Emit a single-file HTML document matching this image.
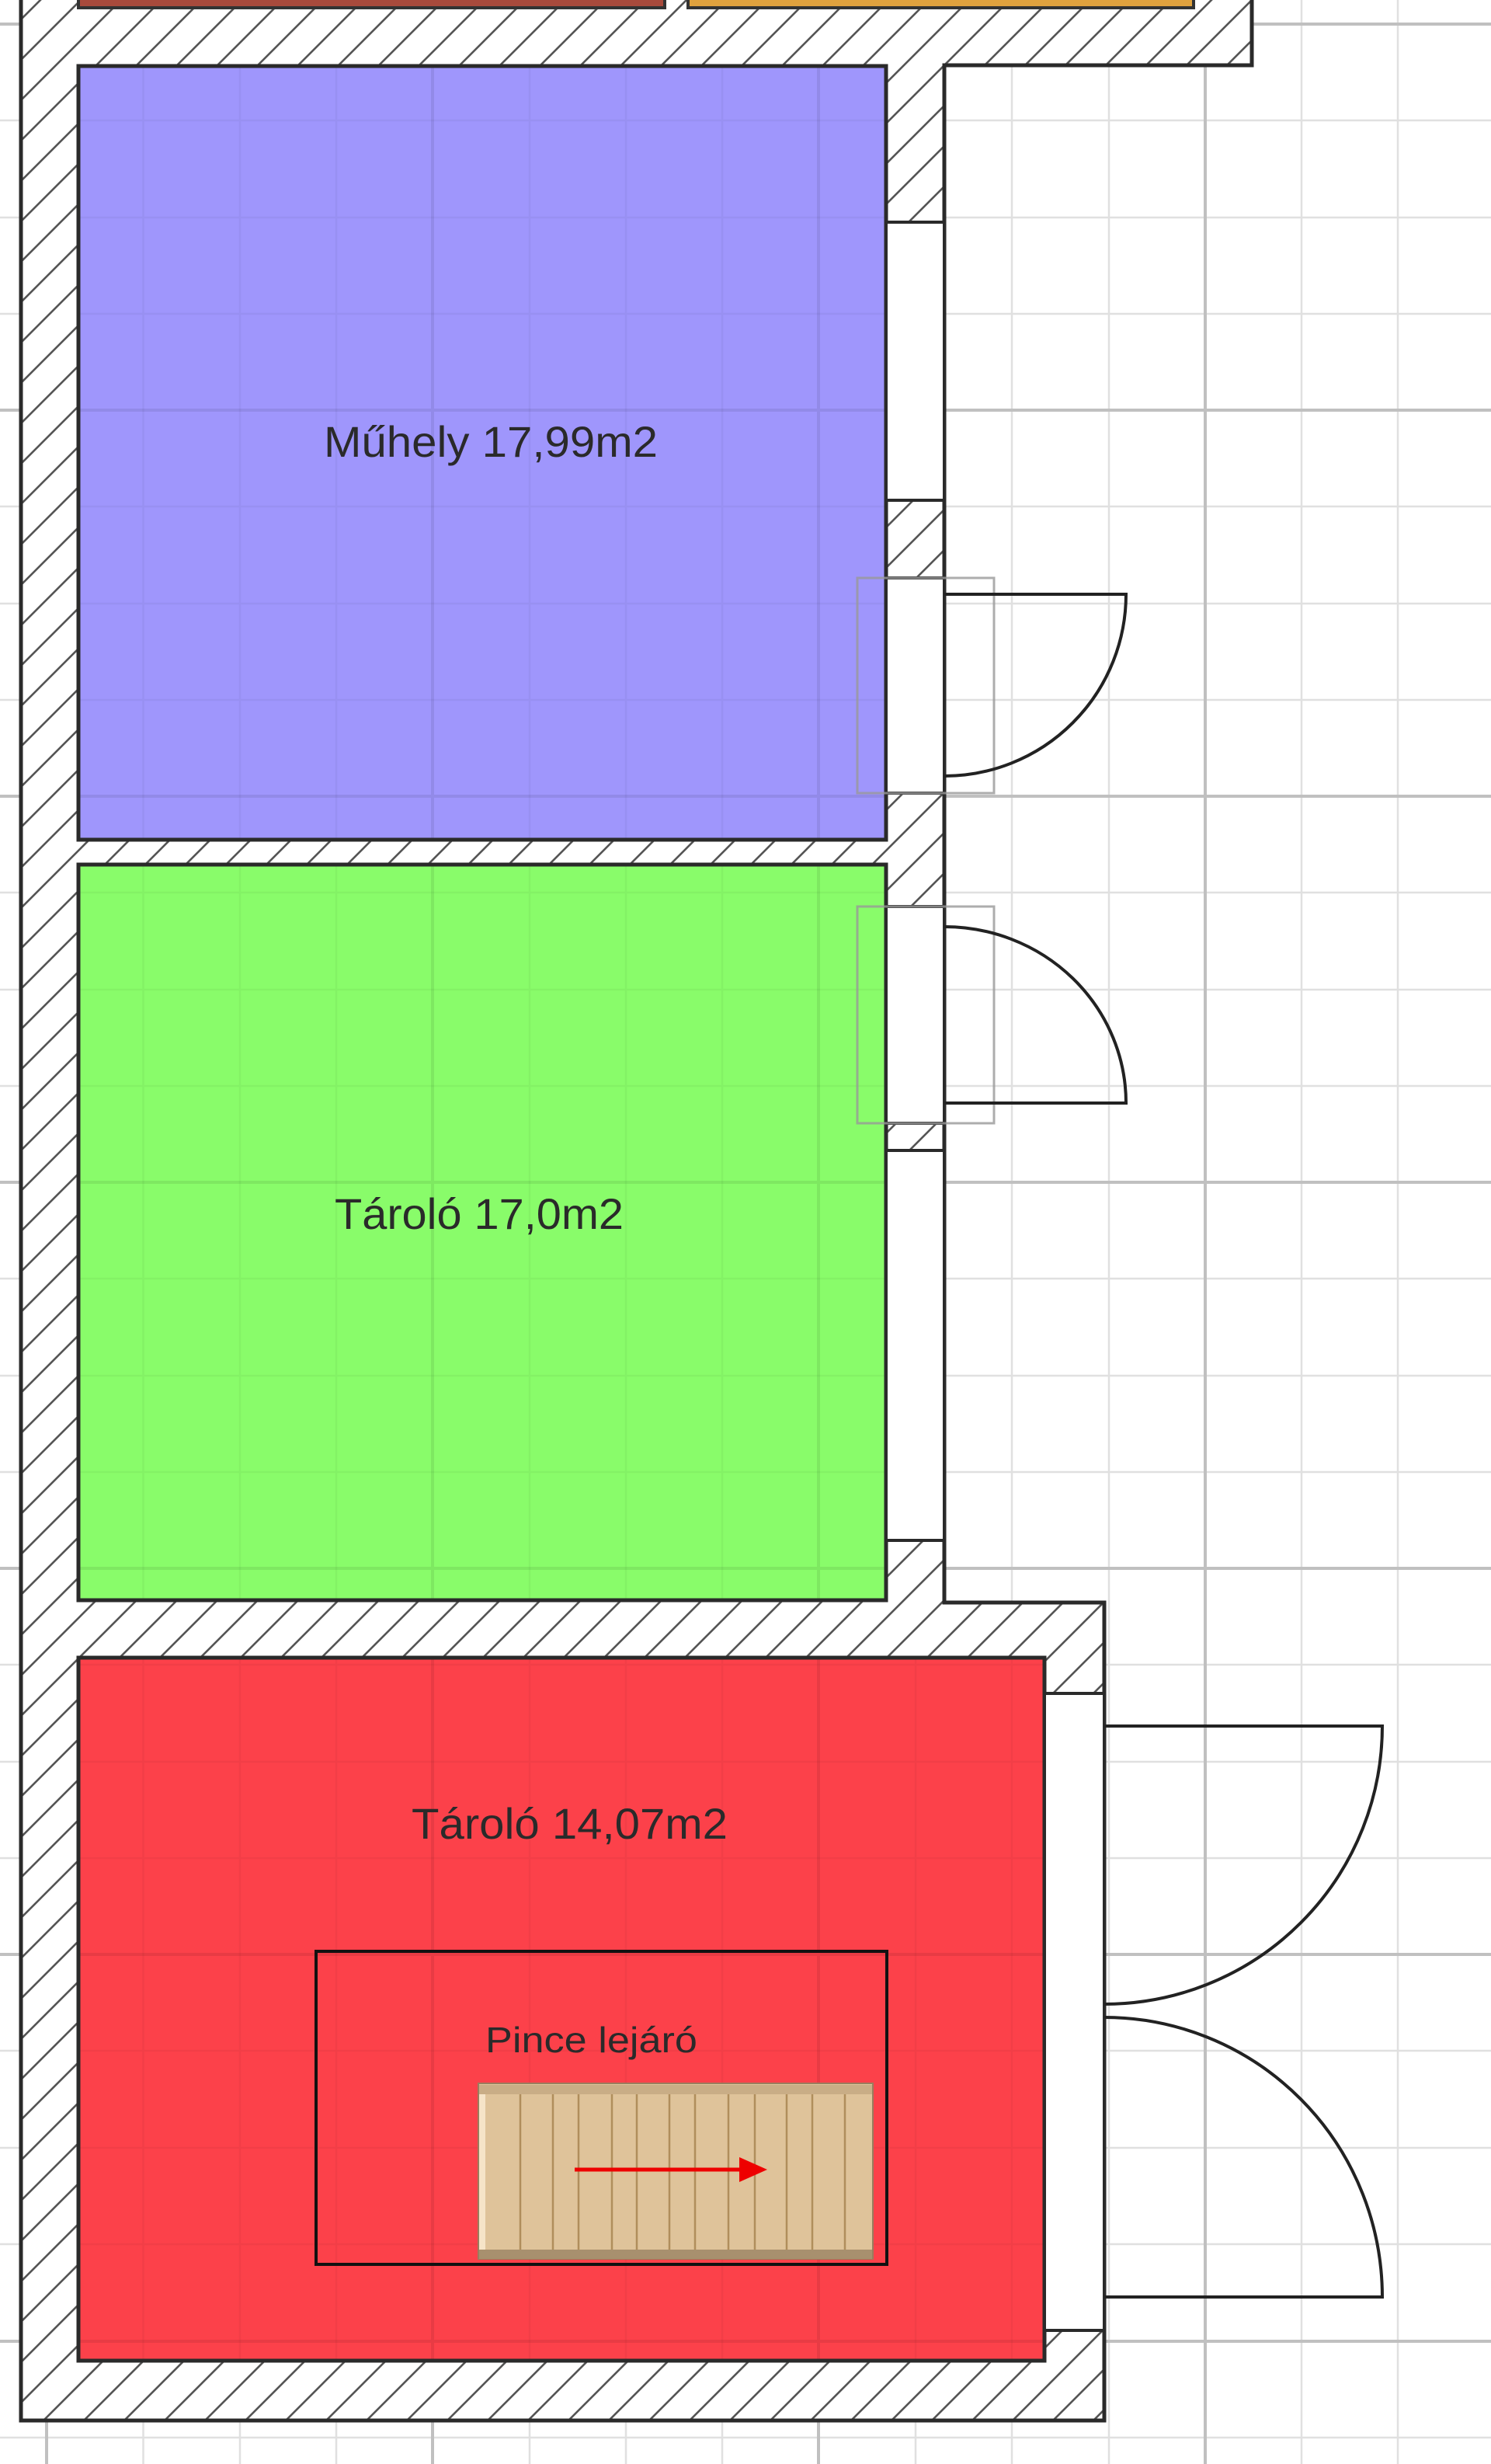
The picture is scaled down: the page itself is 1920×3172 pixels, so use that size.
<!DOCTYPE html>
<html><head><meta charset="utf-8"><style>
html,body{margin:0;padding:0;background:#fff;}
svg{display:block;}
text{font-family:"Liberation Sans",sans-serif;fill:#2a2a2a;}
</style></head><body>
<svg width="1920" height="3172" viewBox="0 0 1920 3172" xmlns="http://www.w3.org/2000/svg">
<defs>
<pattern id="h" patternUnits="userSpaceOnUse" width="52" height="52">
<rect width="52" height="52" fill="#fff"/>
<path d="M-13,13 L13,-13 M0,52 L52,0 M39,65 L65,39" stroke="#555" stroke-width="2.6"/>
</pattern>
<clipPath id="rc">
<rect x="101" y="85" width="1040" height="996"/>
<rect x="101" y="1113" width="1040" height="947"/>
<rect x="101" y="2134" width="1244" height="905"/>
</clipPath>
<path id="minor" d="M184.5,0V3172M309,0V3172M433,0V3172M682,0V3172M806,0V3172M930,0V3172M1179,0V3172M1303,0V3172M1428,0V3172M1676,0V3172M1800,0V3172M0,155H1920M0,280H1920M0,404H1920M0,652H1920M0,777H1920M0,901H1920M0,1149H1920M0,1274H1920M0,1398H1920M0,1646H1920M0,1771H1920M0,1895H1920M0,2143H1920M0,2268H1920M0,2392H1920M0,2640H1920M0,2765H1920M0,2889H1920M0,3138H1920" stroke-width="2.5"/>
<path id="major" d="M60,0V3172M557,0V3172M1054,0V3172M1552,0V3172M0,31H1920M0,528H1920M0,1025H1920M0,1522H1920M0,2019H1920M0,2516H1920M0,3014H1920" stroke-width="4"/>
</defs>
<rect width="1920" height="3172" fill="#fff"/>
<use href="#minor" stroke="#e0e0e0"/>
<use href="#major" stroke="#c0c0c0"/>
<path d="M27,-10 H1612 V84 H1216 V2063 H1422 V3116 H27 Z" fill="url(#h)" stroke="#2a2a2a" stroke-width="5"/>
<rect x="101" y="-10" width="755" height="20" fill="#a84a3c" stroke="#333" stroke-width="4"/>
<rect x="886" y="-10" width="651" height="20" fill="#e0a23e" stroke="#333" stroke-width="4"/>
<rect x="101" y="85" width="1040" height="996" fill="#9f96fc"/>
<rect x="101" y="1113" width="1040" height="947" fill="#89fc6a"/>
<rect x="101" y="2134" width="1244" height="905" fill="#fc414a"/>
<g clip-path="url(#rc)">
<use href="#minor" stroke="rgba(0,0,0,0.04)"/>
<use href="#major" stroke="rgba(0,0,0,0.08)"/>
</g>
<g fill="none" stroke="#2a2a2a" stroke-width="5">
<rect x="101" y="85" width="1040" height="996"/>
<rect x="101" y="1113" width="1040" height="947"/>
<rect x="101" y="2134" width="1244" height="905"/>
</g>
<g fill="#fff" stroke="#2a2a2a" stroke-width="4">
<rect x="1141" y="286" width="75" height="358"/>
<rect x="1141" y="744" width="75" height="277"/>
<rect x="1141" y="1167" width="75" height="279"/>
<rect x="1141" y="1481" width="75" height="502"/>
<rect x="1345" y="2180" width="77" height="820"/>
</g>
<g fill="none" stroke="#999" stroke-width="3" opacity="0.8">
<rect x="1104" y="744" width="176" height="277"/>
<rect x="1104" y="1167" width="176" height="279"/>
</g>
<g fill="none" stroke="#222" stroke-width="4">
<path d="M1216,765 H1450 A234,234 0 0 1 1216,999"/>
<path d="M1216,1420 H1450 A234,227 0 0 0 1216,1193"/>
<path d="M1422,2222 H1780 A358,358 0 0 1 1422,2580"/>
<path d="M1422,2957 H1780 A358,360 0 0 0 1422,2597"/>
</g>
<text x="417" y="588" font-size="56" textLength="430" lengthAdjust="spacingAndGlyphs">Műhely 17,99m2</text>
<text x="431" y="1582" font-size="56" textLength="372" lengthAdjust="spacingAndGlyphs">Tároló 17,0m2</text>
<text x="530" y="2367" font-size="56" textLength="407" lengthAdjust="spacingAndGlyphs">Tároló 14,07m2</text>
<rect x="407" y="2512" width="735" height="403" fill="none" stroke="#111" stroke-width="4"/>
<text x="625" y="2642" font-size="46" textLength="273" lengthAdjust="spacingAndGlyphs">Pince lejáró</text>
<rect x="616" y="2682" width="508" height="226" fill="#dfc39a" stroke="#9a7d5e" stroke-width="2"/>
<rect x="617" y="2684" width="506" height="12" fill="#c9ad86"/>
<rect x="617" y="2896" width="506" height="12" fill="#a8906e"/>
<rect x="617" y="2696" width="8" height="200" fill="#f6e4c8"/>
<g stroke="#b08e5c" stroke-width="2.5">
<path d="M670,2696V2896M712,2696V2896M745,2696V2896M788,2696V2896M820,2696V2896M862,2696V2896M895,2696V2896M938,2696V2896M972,2696V2896M1013,2696V2896M1046,2696V2896M1088,2696V2896"/>
</g>
<path d="M740,2793 H955" stroke="#ee0000" stroke-width="5"/>
<path d="M952,2777 L988,2793 L952,2809 Z" fill="#ee0000"/>
</svg>
</body></html>
